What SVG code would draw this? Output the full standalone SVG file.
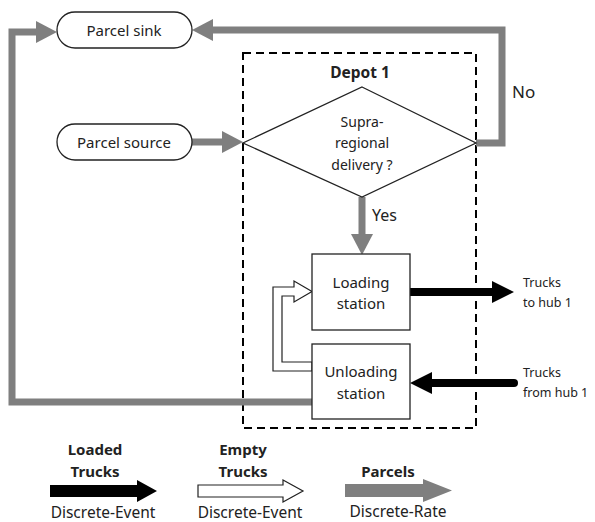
<svg xmlns="http://www.w3.org/2000/svg" width="595" height="522" viewBox="0 0 595 522">
<style>
text{font-family:"Noto Sans","Open Sans","DejaVu Sans",sans-serif;fill:#222;text-anchor:middle}
.node{fill:#fff;stroke:#222;stroke-width:1.3}
.gray{fill:none;stroke:#7f7f7f;stroke-width:7;stroke-linejoin:miter}
.grayhead{fill:#7f7f7f}
.blk{fill:none;stroke:#000;stroke-width:8}
.t15{font-size:15px}
.t13{font-size:12.5px;text-anchor:start}
.b{font-weight:bold}
.lg{font-size:15.5px}
.lb{font-size:15px;font-weight:bold}
</style>
<rect width="595" height="522" fill="#fff"/>
<g id="depot1">
<rect x="243" y="53" width="233" height="375" fill="none" stroke="#000" stroke-width="2" stroke-dasharray="8,5"/>
<text x="360" y="78" class="b" style="font-size:15.5px">Depot 1</text>
</g>
<g id="connectors">
<polyline class="gray" points="476,143 502,143 502,30 210,30"/>
<polygon class="grayhead" points="192,30 213,19 213,41"/>
<line class="gray" x1="191" y1="142" x2="225" y2="142"/>
<polygon class="grayhead" points="243,142 222,131 222,153"/>
<line class="gray" x1="362" y1="197" x2="362" y2="238"/>
<polygon class="grayhead" points="362,255 351,234 373,234"/>
<polyline class="gray" points="313,402 12,402 12,32 40,32"/>
<polygon class="grayhead" points="57,32 36,21 36,43"/>
<line class="blk" x1="410" y1="292" x2="495" y2="292"/>
<polygon points="514,292 492,281 492,303" fill="#000"/>
<line x1="514" y1="383" x2="428" y2="383" stroke="#000" stroke-width="8" stroke-linecap="round"/>
<polygon points="410,383 432,372 432,394" fill="#000"/>
<polygon points="312,371 273,371 273,287 294,287 294,281 312,291.5 294,302 294,296 282,296 282,362 312,362" fill="#fff" stroke="#222" stroke-width="1.2"/>
</g>
<g id="parcel-sink">
<rect x="57" y="12" width="135" height="36" rx="18" class="node"/>
<text x="124" y="36" class="t15">Parcel sink</text>
</g>
<g id="parcel-source">
<rect x="57" y="124" width="135" height="36" rx="18" class="node"/>
<text x="124" y="148" class="t15">Parcel source</text>
</g>
<g id="decision">
<polygon points="362,87 476,143 362,197 243,143" class="node"/>
<text x="362" y="127" style="font-size:14px">Supra-</text>
<text x="362" y="148" style="font-size:14px">regional</text>
<text x="362" y="170" style="font-size:14px">delivery ?</text>
</g>
<g id="loading-station">
<rect x="312" y="254" width="98" height="76" class="node"/>
<text x="361" y="288" class="t15">Loading</text>
<text x="361" y="309" class="t15">station</text>
</g>
<g id="unloading-station">
<rect x="312" y="344" width="98" height="75" class="node"/>
<text x="361" y="377" class="t15">Unloading</text>
<text x="361" y="399" class="t15">station</text>
</g>
<g id="labels">
<text x="372" y="221" style="font-size:16px;text-anchor:start">Yes</text>
<text x="512" y="98" style="font-size:17px;text-anchor:start">No</text>
<text x="523" y="287" class="t13">Trucks</text>
<text x="523" y="307" class="t13">to hub 1</text>
<text x="523" y="377" class="t13">Trucks</text>
<text x="523" y="397" class="t13">from hub 1</text>
</g>
<g id="legend">
<text x="95" y="455" class="lb">Loaded</text>
<text x="95" y="477" class="lb">Trucks</text>
<polygon points="50,485 137,485 137,480 157,491 137,502 137,497 50,497" fill="#000"/>
<text x="103" y="518" class="lg">Discrete-Event</text>
<text x="243" y="455" class="lb">Empty</text>
<text x="243" y="477" class="lb">Trucks</text>
<polygon points="198,485 283,485 283,480 303,491 283,502 283,497 198,497" fill="#fff" stroke="#222" stroke-width="1.2"/>
<text x="250" y="518" class="lg">Discrete-Event</text>
<text x="388" y="477" class="lb">Parcels</text>
<polygon points="345,484 423,484 423,479 452,490.5 423,502 423,497 345,497" fill="#7f7f7f"/>
<text x="398" y="517" class="lg">Discrete-Rate</text>
</g>
</svg>
